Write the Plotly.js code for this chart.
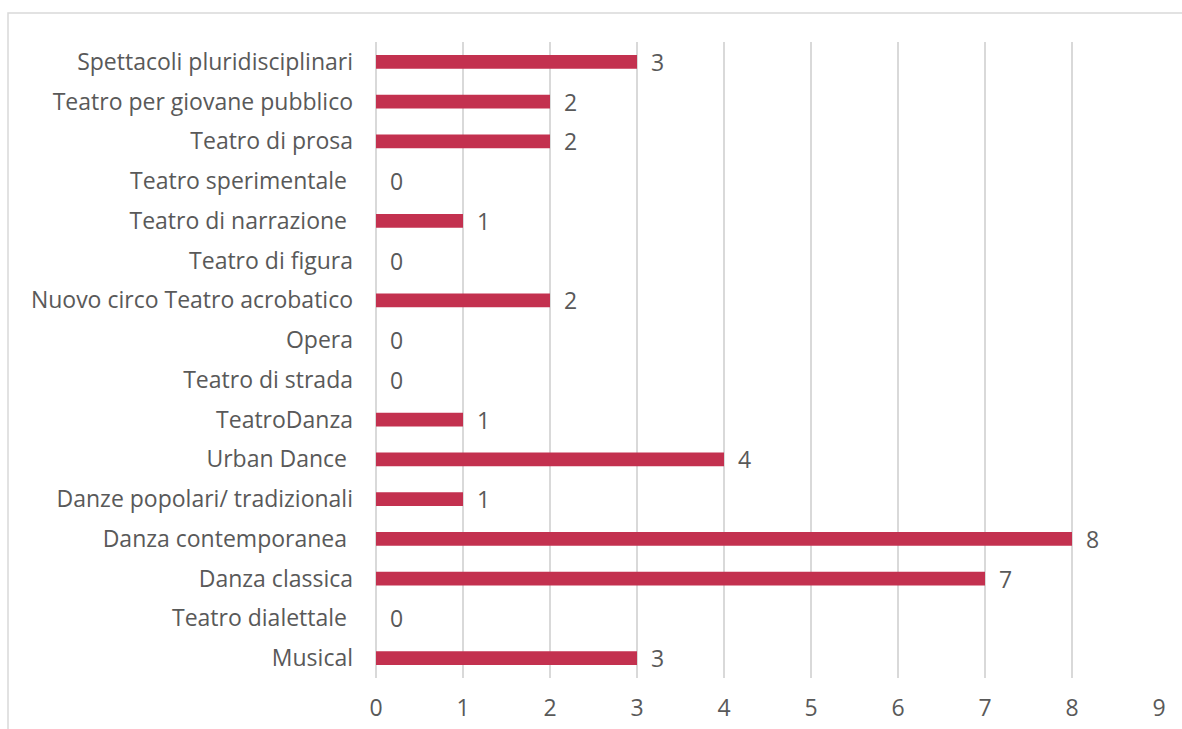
<!DOCTYPE html>
<html><head><meta charset="utf-8">
<script src="https://cdn.plot.ly/plotly-3.0.1.min.js"></script>
<style>html,body{margin:0;padding:0;background:#fff;}#chart{width:1182px;height:729px;}</style>
</head><body><div id="chart"></div>
<script>
const categories = [
  "Musical",
  "Teatro dialettale\u00a0",
  "Danza classica",
  "Danza contemporanea\u00a0",
  "Danze popolari/ tradizionali",
  "Urban Dance\u00a0",
  "TeatroDanza",
  "Teatro di strada",
  "Opera",
  "Nuovo circo Teatro acrobatico",
  "Teatro di figura",
  "Teatro di narrazione\u00a0",
  "Teatro sperimentale\u00a0",
  "Teatro di prosa",
  "Teatro per giovane pubblico",
  "Spettacoli pluridisciplinari"
];
const values = [3, 0, 7, 8, 1, 4, 1, 0, 0, 2, 0, 1, 0, 2, 2, 3];
const xTicks = [0, 1, 2, 3, 4, 5, 6, 7, 8, 9];

const FONT = "'Open Sans', sans-serif";
const GREY = "#595959";
const FS = 23;

const annotations = categories.map((c, i) => ({
  x: values[i], y: c, xref: "x", yref: "y",
  text: String(values[i]), showarrow: false,
  xanchor: "left", xshift: 12,
  font: {family: FONT, size: FS, color: GREY}
}));

Plotly.newPlot("chart", [{
  type: "bar", orientation: "h",
  x: values, y: categories,
  marker: {color: "#C3314F"},
  hoverinfo: "none"
}], {
  width: 1182, height: 729,
  margin: {l: 376, r: 23, t: 42, b: 51},
  paper_bgcolor: "#fff", plot_bgcolor: "#fff",
  bargap: 0.66,
  showlegend: false,
  font: {family: FONT, size: FS, color: GREY},
  xaxis: {
    range: [0, 9], tickvals: xTicks, ticktext: xTicks.map(String),
    showgrid: true, gridcolor: "#D9D9D9", gridwidth: 1.5,
    zeroline: true, zerolinecolor: "#D9D9D9", zerolinewidth: 1.5,
    showline: false, ticks: "", ticklabelstandoff: 14,
    tickfont: {family: FONT, size: FS, color: GREY}, fixedrange: true
  },
  yaxis: {
    type: "category", categoryorder: "array", categoryarray: categories,
    range: [-0.5, categories.length - 0.5],
    showgrid: false, zeroline: false, showline: false, ticks: "",
    ticklabelstandoff: 22,
    tickfont: {family: FONT, size: FS, color: GREY}, fixedrange: true
  },
  annotations: annotations,
  shapes: [{
    type: "rect", xref: "paper", yref: "paper",
    x0: -368/783, x1: 1.2, y0: -0.5, y1: 1 + 29/636,
    line: {color: "#D9D9D9", width: 1.5}, fillcolor: "rgba(0,0,0,0)", layer: "below"
  }]
}, {displayModeBar: false, staticPlot: true});
</script></body></html>
